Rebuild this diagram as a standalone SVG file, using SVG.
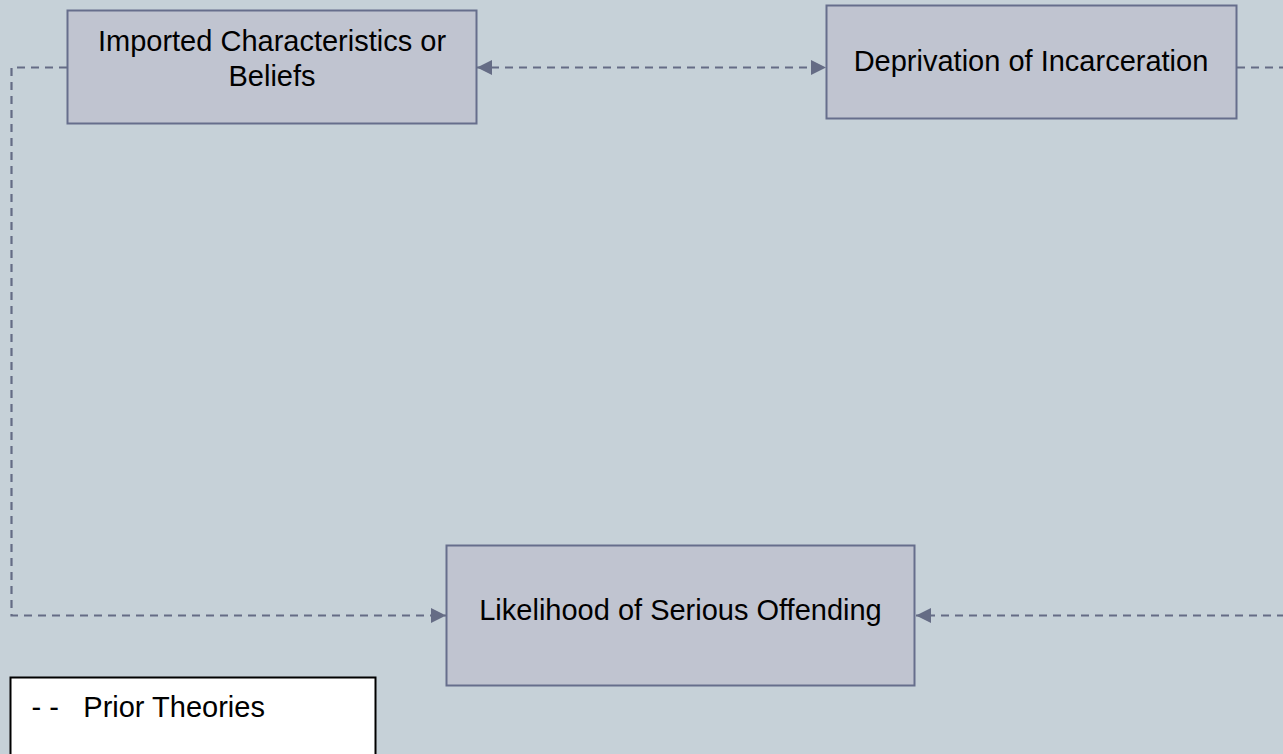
<svg xmlns="http://www.w3.org/2000/svg" width="1283" height="754" viewBox="0 0 1283 754">
<style>
.node rect{fill:#c0c4d0;stroke:#666e8c;stroke-width:2}
.lbl{font-family:"Liberation Sans",Arial,sans-serif;font-size:29px;fill:#000;text-anchor:middle}
.conn{fill:none;stroke:#656c85;stroke-width:2.2;stroke-dasharray:8 6}
</style>
<defs>
<marker id="ah" viewBox="0 0 10 10" refX="10" refY="5" markerWidth="15" markerHeight="15" markerUnits="userSpaceOnUse" orient="auto-start-reverse">
<path d="M0,0 L10,5 L0,10 z" fill="#656c85"/>
</marker>
</defs>
<rect width="1283" height="754" fill="#c6d1d8"/>
<g id="connectors">
<path class="conn" d="M67,67.5 H11.5 V615.5 H446" marker-end="url(#ah)"/>
<path class="conn" d="M477,67.5 H826" marker-start="url(#ah)" marker-end="url(#ah)"/>
<path class="conn" d="M1237,67.5 H1295 V615.5 H916" marker-end="url(#ah)"/>
</g>
<g id="imported" class="node">
<rect x="67.5" y="10.5" width="409" height="113"/>
<text class="lbl" x="272" y="50.5">Imported Characteristics or</text>
<text class="lbl" x="272" y="86">Beliefs</text>
</g>
<g id="deprivation" class="node">
<rect x="826.5" y="5.5" width="410" height="113"/>
<text class="lbl" x="1031" y="70.5">Deprivation of Incarceration</text>
</g>
<g id="likelihood" class="node">
<rect x="446.5" y="545.5" width="468" height="140"/>
<text class="lbl" x="680.5" y="620">Likelihood of Serious Offending</text>
</g>
<g id="legend">
<rect x="10.5" y="677.5" width="365" height="90" fill="#fff" stroke="#000" stroke-width="2"/>
<text x="31.5" y="716.5" font-family="Liberation Sans, Arial, sans-serif" font-size="29" fill="#000">- -</text>
<text x="83.3" y="716.5" font-family="Liberation Sans, Arial, sans-serif" font-size="29" fill="#000">Prior Theories</text>
</g>
</svg>
